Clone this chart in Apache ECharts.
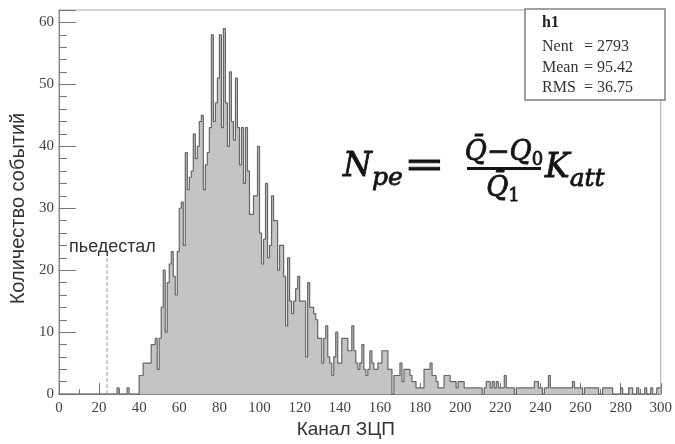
<!DOCTYPE html>
<html><head><meta charset="utf-8">
<script src="https://cdn.jsdelivr.net/npm/echarts@6/dist/echarts.min.js"></script>
<style>html,body{margin:0;padding:0;background:#fff}#c{width:675px;height:444px}</style>
</head><body><div id="c"></div>
<script>
// ---- data ----
const firstBin = 0;          // channel of the first bin, bin width = 1
const counts = [
  0,0,0,0,0,0,0,0,0,0,
  0,0,0,0,0,0,0,0,0,0,
  0,0,0,0,0,0,0,0,0,1,
  0,0,0,0,1,0,0,0,0,0,
  3,3,5,5,5,5,8,8,9,4,
  9,14,20,10,18,21,23,19,16,23,
  30,31,24,39,33,35,36,42,38,40,
  44,45,33,37,39,43,58,44,47,51,
  58,43,59,47,40,52,44,41,51,43,
  37,43,34,43,36,29,29,32,32,40,
  26,21,25,34,22,24,32,28,28,20,
  24,24,19,11,22,15,13,15,17,19,
  15,15,15,6,18,14,14,13,12,9,
  9,5,9,11,6,5,3,6,10,5,
  5,9,9,9,7,7,11,7,5,4,
  5,8,4,3,4,7,5,4,4,5,
  5,7,7,7,4,4,0,3,3,3,
  5,2,4,4,4,3,2,2,1,1,
  1,1,4,4,4,5,3,3,2,1,
  1,1,3,3,3,2,2,2,1,2,
  2,2,1,1,1,1,1,1,1,1,
  1,0,1,2,2,1,2,1,2,1,
  1,1,3,1,1,1,1,0,1,1,
  1,1,1,1,1,1,1,2,2,1,
  1,0,1,1,3,1,1,1,1,1,
  1,1,1,1,1,1,2,1,1,1,
  1,0,1,1,1,1,1,1,1,0,
  0,1,1,1,1,1,0,0,0,0,
  1,0,0,0,1,1,0,0,1,0,
  0,0,1,0,0,1,0,0,1,1
];
const xTickLabels = [0,20,40,60,80,100,120,140,160,180,200,220,240,260,280,300];
const yTickLabels = [0,10,20,30,40,50,60];
const pedestalChannel = 24;
const pedestalHeight = 22;
const pedestalLabel = 'пьедестал';
const xTitle = 'Канал ЗЦП';
const yTitle = 'Количество событий';
const statsTitle = 'h1';
const statsNames = ['Nent', 'Mean', 'RMS'];
const statsValues = ['2793', '95.42', '36.75'];

// ---- build ----
const histData = counts.map((v, i) => [firstBin + i, v]);
histData.push([firstBin + counts.length, counts[counts.length - 1]]);

const SERIF = '"Liberation Serif", "DejaVu Serif", serif';
const SANS = '"Liberation Sans", Arial, sans-serif';
const MATH = '"DejaVu Serif", serif';
const INK = '#141414';

const cv = document.createElement('canvas').getContext('2d');
function tw(t, font) { cv.font = font; return cv.measureText(t).width; }
function mf(fs, it) { return (it ? 'italic ' : '') + fs + 'px ' + MATH; }

const gfx = [];
function put(t, x, base, fs, it, sx) {
  const font = mf(fs, it);
  gfx.push({ type: 'text', x: x, y: base - 0.34 * fs, z: 100, silent: true, scaleX: sx || 1,
    style: { text: t, font: font, fill: INK, stroke: INK, lineWidth: 0.8, align: 'left', verticalAlign: 'middle' } });
  return x + tw(t, font) * (sx || 1);
}
function group(parts, cx, base) {
  let total = 0;
  parts.forEach(p => total += tw(p[0], mf(p[1], p[2])));
  let x = cx - total / 2;
  parts.forEach(p => { x = put(p[0], x, base + p[3], p[1], p[2]); });
}
// formula N_pe = (Q̄−Q0)/Q̄1 K_att
let fx = put('N', 343, 179, 33, true);
put('pe', fx, 187, 25, true);
put('=', 404, 179, 36, false, 1.35);
group([['Q\u0304', 27, true, 0], ['\u2212', 27, false, 0], ['Q', 27, true, 0], ['0', 18, false, 4]], 504, 162);
gfx.push({ type: 'rect', z: 100, silent: true, shape: { x: 467, y: 167, width: 74, height: 3 }, style: { fill: INK } });
group([['Q\u0304', 27, true, 0], ['1', 18, false, 4]], 503, 198);
fx = put('K', 545, 180, 33, true);
put('att', fx, 188, 25, true);

// stats box
gfx.push({ type: 'rect', z: 100, silent: true, shape: { x: 525, y: 9, width: 140, height: 91 },
  style: { fill: '#fff', stroke: '#808080', lineWidth: 1.5 } });
gfx.push({ type: 'text', z: 101, silent: true, x: 542, y: 23,
  style: { text: statsTitle, font: 'bold 16px ' + SERIF, fill: '#222', verticalAlign: 'middle' } });
statsNames.forEach((n, i) => {
  const y = 47 + i * 20.5;
  gfx.push({ type: 'text', z: 101, silent: true, x: 542, y: y,
    style: { text: n, font: '16px ' + SERIF, fill: '#333', verticalAlign: 'middle' } });
  gfx.push({ type: 'text', z: 101, silent: true, x: 584, y: y,
    style: { text: '= ' + statsValues[i], font: '16px ' + SERIF, fill: '#333', verticalAlign: 'middle' } });
});
// pedestal label
gfx.push({ type: 'text', z: 100, silent: true, x: 69, y: 247,
  style: { text: pedestalLabel, font: '18px ' + SANS, fill: '#333', verticalAlign: 'middle' } });

const chart = echarts.init(document.getElementById('c'), null, { renderer: 'canvas' });
chart.setOption({
  animation: false,
  backgroundColor: '#fff',
  grid: { left: 54, top: 10, width: 609, height: 387, show: true, borderColor: '#a8a8a8', borderWidth: 1 },
  xAxis: {
    type: 'value', min: 0, max: 300, interval: 20,
    name: xTitle, nameLocation: 'middle', nameGap: 20,
    nameTextStyle: { fontFamily: SANS, fontSize: 19, color: '#333', padding: [0, 28, 0, 0] },
    axisLine: { lineStyle: { color: '#888', width: 1 } },
    axisTick: { inside: true, length: 11, lineStyle: { color: '#777' } },
    minorTick: { show: true, splitNumber: 2, length: 5, lineStyle: { color: '#777' } },
    axisLabel: { fontFamily: SERIF, fontSize: 15, color: '#444', margin: 6,
      formatter: v => xTickLabels.includes(v) ? String(v) : '' },
    splitLine: { show: false }
  },
  yAxis: [{
    type: 'value', min: 0, max: 62, interval: 10,
    name: yTitle, nameLocation: 'middle', nameGap: 28, nameRotate: 90,
    nameTextStyle: { fontFamily: SANS, fontSize: 20, color: '#333', padding: [0, 13, 0, 0] },
    axisLine: { lineStyle: { color: '#888', width: 1 } },
    axisTick: { inside: true, length: 17, lineStyle: { color: '#777' } },
    axisLabel: { fontFamily: SERIF, fontSize: 15, color: '#444', margin: 5,
      formatter: v => yTickLabels.includes(v) ? String(v) : '' },
    splitLine: { show: false }
  }, {
    type: 'value', min: 0, max: 62, interval: 2, position: 'left', offset: 0,
    axisLine: { show: false },
    axisTick: { show: true, inside: true, length: 8, lineStyle: { color: '#777' } },
    axisLabel: { show: false },
    splitLine: { show: false }
  }],
  series: [{
    type: 'line', step: 'end', data: histData, yAxisIndex: 0,
    showSymbol: false, symbol: 'none',
    lineStyle: { color: '#666', width: 1.2 },
    areaStyle: { color: '#c4c4c4', opacity: 1 },
    silent: true
  }, {
    type: 'line', data: [[pedestalChannel, 0], [pedestalChannel, pedestalHeight]], yAxisIndex: 0,
    showSymbol: false, symbol: 'none',
    lineStyle: { color: '#999', width: 1, type: [4, 2] },
    silent: true
  }],
  graphic: gfx
});
</script>
</body></html>
